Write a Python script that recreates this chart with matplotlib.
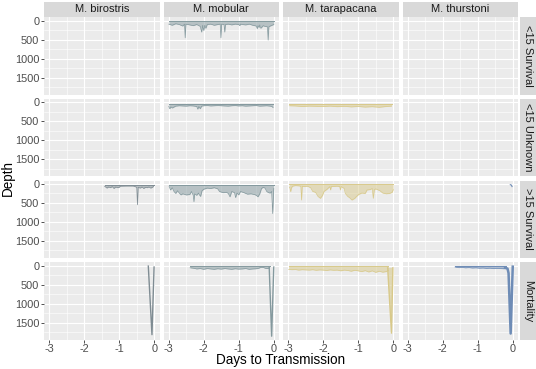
import matplotlib
matplotlib.use('Agg')
import matplotlib.pyplot as plt

plt.rcParams['font.family'] = ['Liberation Sans', 'DejaVu Sans']
plt.rcParams['axes.unicode_minus'] = False

species = ['M. birostris', 'M. mobular', 'M. tarapacana', 'M. thurstoni']
groups = ['<15 Survival', '<15 Unknown', '>15 Survival', 'Mortality']
species_colors = ['#7f8c93', '#84999e', '#d8c98a', '#6e8cb6']

x_ticks = [-3, -2, -1, 0]
x_minor = [-2.5, -1.5, -0.5]
y_ticks = [0, 500, 1000, 1500]
y_minor = [250, 750, 1250, 1750]

# ---- depth envelopes (days to transmission, max depth) ----
mob_lt15s_day = [-3.0, -2.9, -2.8, -2.7, -2.6, -2.55, -2.53, -2.51, -2.4, -2.3,
                 -2.2, -2.1, -2.06, -2.03, -2.0, -1.97, -1.94, -1.9, -1.8, -1.7,
                 -1.6, -1.53, -1.51, -1.49, -1.42, -1.4, -1.38, -1.3, -1.2, -1.1,
                 -1.0, -0.97, -0.95, -0.9, -0.8, -0.7, -0.6, -0.5, -0.47, -0.45,
                 -0.42, -0.4, -0.37, -0.3, -0.25, -0.18, -0.16, -0.14, -0.1, -0.05, 0.0]
mob_lt15s_deep = [90, 120, 80, 100, 140, 90, 450, 90, 110, 130,
                  100, 150, 300, 120, 260, 120, 200, 100, 90, 120,
                  100, 90, 450, 90, 100, 300, 100, 90, 110, 90,
                  100, 130, 90, 100, 110, 90, 120, 140, 210, 130,
                  180, 110, 200, 130, 150, 160, 510, 160, 140, 120, 100]

mob_unk_day = [-3.0, -2.97, -2.94, -2.9, -2.8, -2.7, -2.6, -2.5, -2.4, -2.3,
               -2.2, -2.17, -2.14, -2.1, -2.06, -2.0, -1.9, -1.8, -1.7, -1.6,
               -1.5, -1.4, -1.3, -1.2, -1.1, -1.0, -0.9, -0.8, -0.7, -0.6,
               -0.5, -0.4, -0.3, -0.2, -0.1, -0.05, -0.02]
mob_unk_deep = [110, 170, 120, 150, 100, 90, 95, 100, 90, 95,
                110, 180, 110, 170, 100, 90, 85, 95, 90, 85,
                90, 95, 100, 90, 85, 95, 90, 100, 95, 90,
                85, 100, 95, 90, 100, 110, 140]

tar_unk_day = [-2.97, -2.8, -2.6, -2.4, -2.2, -2.0, -1.8, -1.6, -1.4, -1.2,
               -1.0, -0.8, -0.6, -0.4, -0.2, -0.05]
tar_unk_deep = [90, 95, 110, 100, 105, 110, 100, 115, 105, 120,
                110, 125, 115, 130, 110, 100]

bir_gt15s_day = [-1.42, -1.35, -1.3, -1.25, -1.2, -1.15, -1.1, -1.05, -1.0, -0.97,
                 -0.8, -0.6, -0.55, -0.5, -0.48, -0.46, -0.4, -0.35, -0.3, -0.25,
                 -0.2, -0.15, -0.1, -0.05, -0.02]
bir_gt15s_deep = [60, 110, 80, 100, 70, 120, 80, 100, 90, 60,
                  55, 55, 70, 90, 550, 90, 110, 80, 120, 90,
                  100, 80, 110, 90, 60]

mob_gt15s_day = [-2.99, -2.95, -2.9, -2.85, -2.8, -2.75, -2.7, -2.65, -2.6, -2.5,
                 -2.4, -2.35, -2.3, -2.28, -2.26, -2.2, -2.15, -2.13, -2.09, -2.05,
                 -2.0, -1.9, -1.8, -1.7, -1.6, -1.55, -1.45, -1.35, -1.3, -1.25,
                 -1.2, -1.12, -1.09, -1.05, -1.0, -0.95, -0.85, -0.75, -0.65, -0.55,
                 -0.5, -0.45, -0.4, -0.35, -0.3, -0.25, -0.2, -0.15, -0.1, -0.06,
                 -0.03, 0.0]
mob_gt15s_deep = [60, 160, 100, 200, 250, 180, 240, 290, 260, 290,
                  280, 200, 300, 470, 260, 300, 240, 280, 330, 180,
                  140, 110, 120, 100, 130, 200, 230, 220, 250, 340,
                  200, 230, 360, 240, 290, 200, 230, 270, 260, 280,
                  300, 340, 260, 120, 90, 110, 200, 230, 240, 200,
                  780, 120]

tar_gt15s_day = [-2.97, -2.95, -2.93, -2.91, -2.88, -2.8, -2.7, -2.64, -2.62, -2.6,
                 -2.55, -2.45, -2.36, -2.3, -2.22, -2.15, -2.08, -2.02, -1.98, -1.89,
                 -1.81, -1.79, -1.77, -1.6, -1.53, -1.51, -1.49, -1.4, -1.37, -1.3,
                 -1.25, -1.18, -1.1, -1.05, -0.99, -0.9, -0.8, -0.75, -0.66, -0.6,
                 -0.57, -0.54, -0.5, -0.38, -0.3, -0.2, -0.1, -0.03, 0.0]
tar_gt15s_deep = [80, 116, 205, 110, 60, 45, 50, 60, 425, 60,
                  70, 60, 100, 200, 220, 330, 380, 300, 200, 140,
                  70, 160, 70, 60, 70, 160, 70, 120, 250, 330,
                  360, 425, 380, 330, 280, 240, 250, 160, 150, 120,
                  380, 150, 130, 180, 240, 260, 250, 220, 150]

mob_mort_day = [-2.39, -2.3, -2.2, -2.1, -2.0, -1.9, -1.8, -1.7, -1.6, -1.5,
                -1.4, -1.3, -1.2, -1.1, -1.0, -0.9, -0.8, -0.7, -0.6, -0.5,
                -0.42, -0.38, -0.3, -0.25, -0.2, -0.15, -0.12]
mob_mort_deep = [60, 70, 90, 80, 100, 80, 90, 100, 85, 95,
                 80, 90, 100, 85, 95, 90, 80, 100, 90, 85,
                 70, 50, 50, 70, 80, 75, 60]

tar_mort_day = [-2.99, -2.9, -2.8, -2.7, -2.6, -2.5, -2.4, -2.3, -2.2, -2.1,
                -2.0, -1.9, -1.8, -1.7, -1.6, -1.5, -1.4, -1.3, -1.2, -1.1,
                -1.0, -0.9, -0.8, -0.7, -0.6, -0.5, -0.4, -0.3, -0.2, -0.14]
tar_mort_deep = [100, 110, 105, 120, 110, 115, 120, 110, 125, 115,
                 120, 130, 115, 125, 120, 140, 120, 130, 150, 125,
                 140, 160, 135, 170, 140, 180, 150, 175, 160, 130]

thu_mort_day = [-1.65, -1.55, -1.45, -1.35, -1.25, -1.15, -1.05, -0.95, -0.85, -0.75,
                -0.65, -0.55, -0.45, -0.35, -0.25, -0.2]
thu_mort_deep = [40, 55, 50, 60, 55, 65, 60, 70, 65, 75,
                 70, 80, 75, 80, 85, 80]

# ---- single tracks (final dives) ----
thu_gt15s_track_day = [-0.07, -0.04, -0.02]
thu_gt15s_track_depth = [20, 30, 70]
bir_mort_track_day = [-0.17, -0.065, -0.005]
bir_mort_track_depth = [15, 1820, 40]
mob_mort_track_day = [-0.13, -0.06, 0.0]
mob_mort_track_depth = [40, 1860, 40]
tar_mort_track_day = [-0.16, -0.05, -0.01]
tar_mort_track_depth = [60, 1780, 60]
thu_mort_track_day = [-0.22, -0.15, -0.12, -0.06, 0.0]
thu_mort_track_depth = [60, 80, 200, 1790, 30]

# (row, col) -> (days, deep, surface)
bands = {
    (0, 1): (mob_lt15s_day, mob_lt15s_deep, 20),
    (1, 1): (mob_unk_day, mob_unk_deep, 40),
    (1, 2): (tar_unk_day, tar_unk_deep, 45),
    (2, 0): (bir_gt15s_day, bir_gt15s_deep, 30),
    (2, 1): (mob_gt15s_day, mob_gt15s_deep, 20),
    (2, 2): (tar_gt15s_day, tar_gt15s_deep, 15),
    (3, 1): (mob_mort_day, mob_mort_deep, 20),
    (3, 2): (tar_mort_day, tar_mort_deep, 10),
    (3, 3): (thu_mort_day, thu_mort_deep, 15),
}
tracks = {
    (2, 3): (thu_gt15s_track_day, thu_gt15s_track_depth, 0.8, False),
    (3, 0): (bir_mort_track_day, bir_mort_track_depth, 1.0, False),
    (3, 1): (mob_mort_track_day, mob_mort_track_depth, 1.0, False),
    (3, 2): (tar_mort_track_day, tar_mort_track_depth, 1.0, True),
    (3, 3): (thu_mort_track_day, thu_mort_track_depth, 1.8, False),
}

W, H = 536, 369
fig = plt.figure(figsize=(W / 100, H / 100), dpi=100)


def px_axes(left, top, width, height):
    return fig.add_axes([left / W, 1 - (top + height) / H, width / W, height / H])


col_left = [44, 163.5, 283, 402.5]
row_top = [17.3, 98.9, 180.5, 262.1]
pw, ph = 115.5, 77.5

for r in range(4):
    for c in range(4):
        ax = px_axes(col_left[c], row_top[r], pw, ph)
        ax.set_facecolor('#EBEBEB')
        for s in ax.spines.values():
            s.set_visible(False)
        ax.set_xlim(-3.15, 0.15)
        ax.set_ylim(1950, -90)
        ax.set_xticks(x_ticks)
        ax.set_xticks(x_minor, minor=True)
        ax.set_yticks(y_ticks)
        ax.set_yticks(y_minor, minor=True)
        ax.set_xticklabels([str(v) for v in x_ticks])
        ax.set_yticklabels([str(v) for v in y_ticks])
        ax.grid(which='major', color='white', linewidth=0.8)
        ax.grid(which='minor', color='white', linewidth=0.4)
        ax.set_axisbelow(True)
        ax.tick_params(which='minor', length=0)
        ax.tick_params(which='major', length=2.2, width=0.6, color='#333333',
                       labelsize=7.9, labelcolor='#4D4D4D', pad=1.2)
        if c > 0:
            ax.tick_params(axis='y', length=0, labelleft=False)
        if r < 3:
            ax.tick_params(axis='x', length=0, labelbottom=False)

        col = species_colors[c]
        if (r, c) in bands:
            days, deep, surf = bands[(r, c)]
            ax.fill_between(days, surf, deep, color=col, alpha=0.5, linewidth=0)
            ax.plot(days, deep, color=col, linewidth=0.5)
            ax.plot([days[0], days[-1]], [surf, surf], color=col, linewidth=0.7)
        if (r, c) in tracks:
            days, depth, lw, filled = tracks[(r, c)]
            if filled:
                ax.fill(days, depth, color=col, alpha=0.55, linewidth=0)
            ax.plot(days, depth, color=col, linewidth=lw)

# facet strips
for c, name in enumerate(species):
    sax = px_axes(col_left[c], 1.5, pw, 15.8)
    sax.set_facecolor('#D9D9D9')
    sax.set_xticks([])
    sax.set_yticks([])
    for s in sax.spines.values():
        s.set_visible(False)
    sax.text(0.5, 0.5, name, ha='center', va='center', fontsize=8,
             color='#1A1A1A', transform=sax.transAxes)

for r, name in enumerate(groups):
    sax = px_axes(519.5, row_top[r], 16.5, ph)
    sax.set_facecolor('#D9D9D9')
    sax.set_xticks([])
    sax.set_yticks([])
    for s in sax.spines.values():
        s.set_visible(False)
    sax.text(0.5, 0.5, name, ha='center', va='center', fontsize=8, rotation=270,
             color='#1A1A1A', transform=sax.transAxes)

fig.text(8 / W, 1 - 178 / H, 'Depth', rotation=90, ha='center', va='center', fontsize=9.75)
fig.text(281 / W, 1 - 360 / H, 'Days to Transmission', ha='center', va='center', fontsize=9.75)

fig.savefig('out.png', dpi=100, facecolor='white')
plt.close(fig)
